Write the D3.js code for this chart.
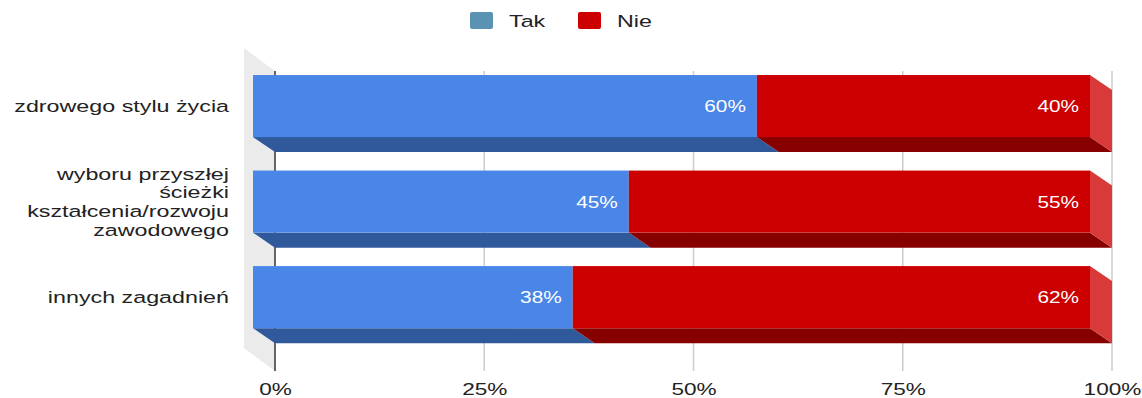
<!DOCTYPE html>
<html>
<head>
<meta charset="utf-8">
<script src="https://cdn.jsdelivr.net/npm/d3@7"></script>
<style>
  body { margin: 0; background: #fff; }
  svg { display: block; font-family: "Liberation Sans", Arial, sans-serif; }
</style>
</head>
<body>
<div id="chart"></div>
<script>
const CATEGORIES = ['zdrowego stylu życia',
                    'wyboru przyszłej ścieżki kształcenia/rozwoju zawodowego',
                    'innych zagadnień'];
const CATEGORY_LINES = [['zdrowego stylu życia'],
                        ['wyboru przyszłej', 'ścieżki', 'kształcenia/rozwoju', 'zawodowego'],
                        ['innych zagadnień']];
const SERIES = ['Tak', 'Nie'];
const TAK = [60.2, 44.9, 38.2];
const NIE = [39.8, 55.1, 61.8];
const VALUE_LABELS = [['60%', '40%'], ['45%', '55%'], ['38%', '62%']];
const X_TICKS = [0, 0.25, 0.5, 0.75, 1];

const FRONT = { Tak: "#4a86e8", Nie: "#cc0000" };
const BOTTOM = { Tak: "#30599c", Nie: "#870000" };
const SIDE = { Tak: "#3f73c8", Nie: "#d83a3a" };
const LEGEND = { Tak: "#5a93b2", Nie: "#cc0000" };

const W = 1142, H = 398;
const DX = 22, DY = 15;          // bar depth
const WX = 31, WY = 23;          // wall depth
const SX = 1.37;                 // horizontal text stretch

var svg = d3.select("#chart").append("svg")
    .attr("width", W).attr("height", H);

var x = d3.scaleLinear().domain([0, 1]).range([275, 1112]);
var y = d3.scaleBand().domain(CATEGORIES).range([41.6, 361.6])
    .paddingInner(0.35).paddingOuter(0.35);
var planeTop = 71, planeBottom = 371;

// left wall
svg.append("polygon")
    .attr("points", [[x(0) - WX, planeTop - WY], [x(0), planeTop],
                     [x(0), planeBottom], [x(0) - WX, planeBottom - WY]].join(" "))
    .style("fill", "#ebebeb");

// gridlines on back plane
svg.append("g").selectAll("line")
    .data(X_TICKS.slice(1))
    .enter().append("line")
      .attr("x1", d => x(d)).attr("x2", d => x(d))
      .attr("y1", planeTop).attr("y2", planeBottom)
      .style("stroke", "#cccccc").style("stroke-width", 1.5);
svg.append("line")
    .attr("x1", x(0)).attr("x2", x(0))
    .attr("y1", planeTop).attr("y2", planeBottom)
    .style("stroke", "#333").style("stroke-width", 1.5);

// x axis labels
var axis = svg.append("g")
    .attr("transform", "translate(0," + planeBottom + ")")
    .call(d3.axisBottom(x).tickValues(X_TICKS).tickSize(0).tickPadding(12)
          .tickFormat(d3.format(".0%")));
axis.select(".domain").remove();
axis.selectAll("text")
    .style("font-size", "16.5px")
    .style("font-family", "'Liberation Sans', Arial, sans-serif")
    .style("fill", "#222")
    .attr("transform", "scale(" + SX + ",1)");

// stacked data
var rows = CATEGORIES.map((c, i) => ({ cat: c, Tak: TAK[i] / 100, Nie: NIE[i] / 100, idx: i }));
var stacked = d3.stack().keys(SERIES)(rows);

var bars = svg.append("g");
stacked.forEach(function(layer) {
  var key = layer.key;
  var g = bars.append("g");
  // bottom face
  g.selectAll(".bottom").data(layer).enter().append("polygon")
      .attr("points", function(d) {
        var x0 = x(d[0]) - DX, x1 = x(d[1]) - DX;
        var yb = y(d.data.cat) + y.bandwidth();
        return [[x0, yb], [x1, yb], [x1 + DX, yb + DY], [x0 + DX, yb + DY]].join(" ");
      })
      .style("fill", BOTTOM[key]);
  // right side face (last series only)
  if (key == SERIES[SERIES.length - 1]) {
    g.selectAll(".side").data(layer).enter().append("polygon")
        .attr("points", function(d) {
          var x1 = x(d[1]) - DX;
          var yt = y(d.data.cat), yb = yt + y.bandwidth();
          return [[x1, yt], [x1 + DX, yt + DY], [x1 + DX, yb + DY], [x1, yb]].join(" ");
        })
        .style("fill", SIDE[key]);
  }
  // front face
  g.selectAll(".front").data(layer).enter().append("rect")
      .attr("x", d => x(d[0]) - DX)
      .attr("y", d => y(d.data.cat))
      .attr("width", d => x(d[1]) - x(d[0]))
      .attr("height", y.bandwidth())
      .style("fill", FRONT[key]);
});

// value labels
stacked.forEach(function(layer, si) {
  bars.append("g").selectAll("text").data(layer).enter().append("text")
      .attr("transform", d => "translate(" + (x(d[1]) - DX - 11) + "," +
            (y(d.data.cat) + y.bandwidth() / 2 + 6) + ") scale(" + 1.3 + ",1)")
      .attr("text-anchor", "end")
      .style("font-size", "16px")
      .style("fill", "#fff")
      .text(d => VALUE_LABELS[d.data.idx][si]);
});

// category labels
var catG = svg.append("g");
CATEGORIES.forEach(function(c, i) {
  var lines = CATEGORY_LINES[i];
  var lh = 18.7;
  var cy = y(c) + y.bandwidth() / 2;
  lines.forEach(function(t, j) {
    catG.append("text")
        .attr("transform", "translate(229," + (cy + (j - (lines.length - 1) / 2) * lh + 6) + ") scale(" + SX + ",1)")
        .attr("text-anchor", "end")
        .style("font-size", "17px")
        .style("fill", "#222")
        .text(t);
  });
});

// legend
var legendX = { Tak: 470, Nie: 578 };
var leg = svg.append("g");
SERIES.forEach(function(s) {
  leg.append("rect")
      .attr("x", legendX[s]).attr("y", 12)
      .attr("width", 23).attr("height", 17)
      .attr("rx", 2)
      .style("fill", LEGEND[s]);
  leg.append("text")
      .attr("transform", "translate(" + (legendX[s] + 39) + ",27) scale(" + SX + ",1)")
      .style("font-size", "17px")
      .style("fill", "#222")
      .text(s);
});
</script>
</body>
</html>
